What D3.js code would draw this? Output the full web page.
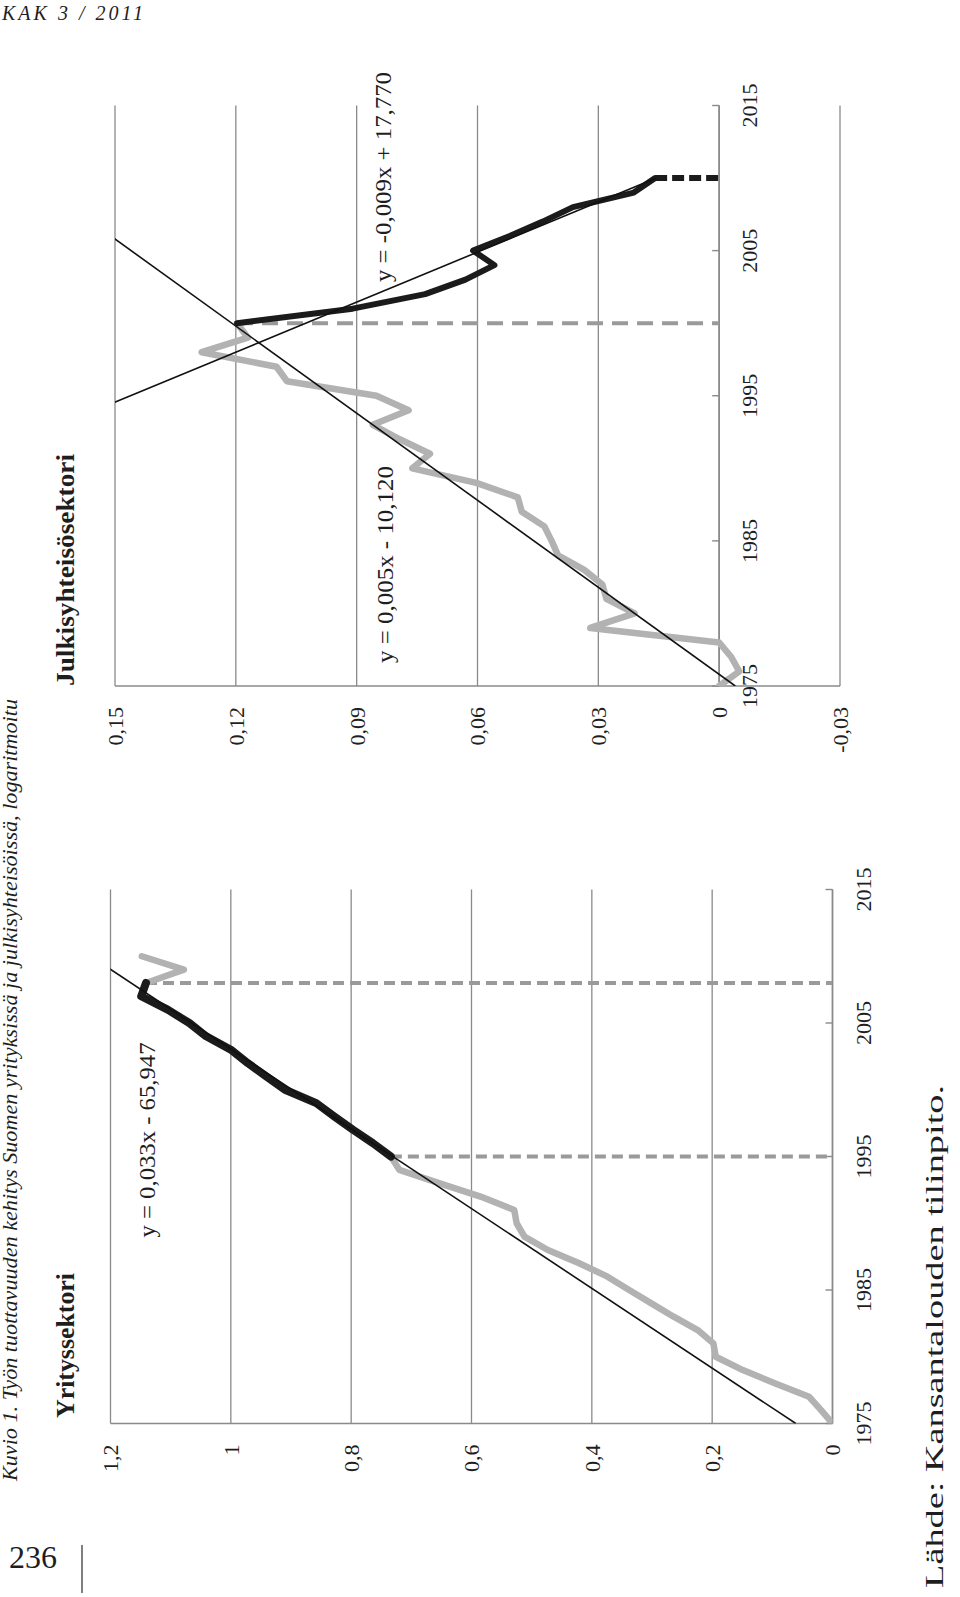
<!DOCTYPE html>
<html>
<head>
<meta charset="utf-8">
<script src="https://cdn.jsdelivr.net/npm/d3@7"></script>
<style>
  html, body { margin: 0; padding: 0; background: #ffffff; }
  svg { display: block; }
  text { font-family: "Liberation Serif", "DejaVu Serif", serif; fill: #1e1e1e; }
</style>
</head>
<body>
<script>
// ---------------- DATA ----------------
const yearTicks = [1975, 1985, 1995, 2005, 2015];
const yearTickLabels = ["1975", "1985", "1995", "2005", "2015"];

// Julkisyhteisösektori (public sector)
const pubValueTicks = [0.15, 0.12, 0.09, 0.06, 0.03, 0, -0.03];
const pubValueLabels = ["0,15", "0,12", "0,09", "0,06", "0,03", "0", "-0,03"];
const pubGrayYears = [1975, 1976, 1977, 1978, 1979, 1980, 1981, 1982, 1983, 1984, 1985, 1986, 1987,
                      1988, 1989, 1990, 1991, 1992, 1993, 1994, 1995, 1996, 1997, 1998, 1999, 2000];
const pubGrayValues = [0.000, -0.005, -0.003, 0.000, 0.032, 0.021, 0.028, 0.029, 0.0335, 0.040, 0.0416, 0.0434, 0.049,
                       0.050, 0.0603, 0.0762, 0.0718, 0.0793, 0.086, 0.0771, 0.0851, 0.1073, 0.1099, 0.1285, 0.117, 0.1197];
const pubBlackYears = [2000, 2001, 2002, 2003, 2004, 2005, 2006, 2007, 2008, 2009, 2010];
const pubBlackValues = [0.1197, 0.091, 0.073, 0.063, 0.0558, 0.0611, 0.052, 0.0438, 0.0363, 0.0212, 0.0159];
const pubTrend1Years = [1975, 2006.5];
const pubTrend1Values = [-0.004, 0.1535];
const pubTrend2Years = [1993.5, 2010];
const pubTrend2Values = [0.1592, 0.0156];
const pubGrayDropYear = 2000, pubGrayDropValue = 0.1197;
const pubBlackDropYear = 2010, pubBlackDropValue = 0.0159;

// Yrityssektori (business sector)
const busValueTicks = [1.2, 1.0, 0.8, 0.6, 0.4, 0.2, 0];
const busValueLabels = ["1,2", "1", "0,8", "0,6", "0,4", "0,2", "0"];
const busGrayYears = [1975, 1976, 1977, 1978, 1979, 1980, 1981, 1982, 1983, 1984, 1985, 1986, 1987,
                      1988, 1989, 1990, 1991, 1992, 1993, 1994, 1995];
const busGrayValues = [0.0, 0.019, 0.039, 0.095, 0.149, 0.194, 0.198, 0.224, 0.264, 0.301, 0.338, 0.374, 0.421,
                       0.473, 0.512, 0.525, 0.529, 0.585, 0.654, 0.720, 0.734];
const busBlackYears = [1995, 1996, 1997, 1998, 1999, 2000, 2001, 2002, 2003, 2004, 2005, 2006, 2007, 2008];
const busBlackValues = [0.734, 0.764, 0.797, 0.828, 0.858, 0.910, 0.941, 0.972, 1.000, 1.041, 1.069, 1.105, 1.149, 1.141];
const busGray2Years = [2008, 2009, 2010];
const busGray2Values = [1.141, 1.078, 1.148];
const busTrendYears = [1975, 2010];
const busTrendValues = [0.061, 1.233];
const busDrop1Year = 1995, busDrop1Value = 0.734;
const busDrop2Year = 2008, busDrop2Value = 1.141;

// Texts
const headerText = "KAK 3 / 2011";
const pageNumber = "236";
const figureTitle = "Kuvio 1. Työn tuottavuuden kehitys Suomen yrityksissä ja julkisyhteisöissä, logaritmoitu";
const pubTitle = "Julkisyhteisösektori";
const busTitle = "Yrityssektori";
const pubEq1 = "y = 0,005x - 10,120";
const pubEq2 = "y = -0,009x + 17,770";
const busEq = "y = 0,033x - 65,947";
const sourceText = "Lähde: Kansantalouden tilinpito.";

// ---------------- DRAWING ----------------
const svg = d3.select("body").append("svg")
  .attr("width", 960).attr("height", 1597)
  .attr("viewBox", "0 0 960 1597");
svg.append("rect").attr("width", 960).attr("height", 1597).attr("fill", "#fff");

const GRID = "#8a8a8a", GRAY = "#b2b2b2", BLACK = "#1b1b1b", DASH = "#9a9a9a";

function zip(a, b) { return a.map((v, i) => [v, b[i]]); }

function drawChart(cfg) {
  // page frame -> chart frame: rotate -90
  const g = svg.append("g")
    .attr("transform", `translate(${cfg.left},${cfg.bottom}) rotate(-90)`);
  const W = cfg.bottom - cfg.top, Hh = cfg.right - cfg.left;
  const x = d3.scaleLinear().domain([1975, 2015]).range([0, W]);
  const y = d3.scaleLinear().domain(cfg.vDomain).range([0, Hh]);

  const clipId = "clip-" + cfg.id;
  g.append("clipPath").attr("id", clipId)
    .append("rect").attr("x", 0).attr("y", 0).attr("width", W).attr("height", Hh);

  // horizontal gridlines (value ticks)
  g.selectAll(".grid").data(cfg.valueTicks).join("line")
    .attr("x1", x(1975)).attr("x2", x(2015))
    .attr("y1", d => y(d)).attr("y2", d => y(d))
    .attr("stroke", GRID).attr("stroke-width", 1.3);
  // value axis line at 1975
  g.append("line")
    .attr("x1", x(1975)).attr("x2", x(1975))
    .attr("y1", y(cfg.vDomain[0])).attr("y2", y(cfg.vDomain[1]))
    .attr("stroke", GRID).attr("stroke-width", 1.6);
  // year axis at value 0
  g.append("line")
    .attr("x1", x(1975)).attr("x2", x(2015))
    .attr("y1", y(0)).attr("y2", y(0))
    .attr("stroke", GRID).attr("stroke-width", 1.6);
  g.selectAll(".ytick").data(yearTicks).join("line")
    .attr("x1", d => x(d)).attr("x2", d => x(d))
    .attr("y1", y(0)).attr("y2", y(0) - 7)
    .attr("stroke", GRID).attr("stroke-width", 1.4);

  // value labels
  g.selectAll(".vlab").data(cfg.valueTicks).join("text")
    .attr("x", x(1975) - 21).attr("y", d => y(d)).attr("dy", "0.36em")
    .attr("text-anchor", "end").attr("font-size", 22)
    .text((d, i) => cfg.valueLabels[i]);
  // year labels
  g.selectAll(".xlab").data(yearTicks).join("text")
    .attr("x", d => x(d)).attr("y", y(0) + cfg.yearLabelOffset)
    .attr("text-anchor", "middle").attr("font-size", 22)
    .text((d, i) => yearTickLabels[i]);

  const line = d3.line().x(d => x(d[0])).y(d => y(d[1]));
  const plot = g.append("g").attr("clip-path", `url(#${clipId})`);

  // drop lines
  cfg.drops.forEach(dp => {
    plot.append("line")
      .attr("x1", x(dp.year)).attr("x2", x(dp.year))
      .attr("y1", y(dp.value)).attr("y2", y(0))
      .attr("stroke", dp.color).attr("stroke-width", dp.width)
      .attr("stroke-dasharray", dp.dash);
  });
  // gray series
  cfg.gray.forEach(s => {
    plot.append("path").attr("d", line(s))
      .attr("fill", "none").attr("stroke", GRAY).attr("stroke-width", 6.5)
      .attr("stroke-linejoin", "round").attr("stroke-linecap", "round");
  });
  // black series
  plot.append("path").attr("d", line(cfg.black))
    .attr("fill", "none").attr("stroke", BLACK).attr("stroke-width", cfg.blackWidth)
    .attr("stroke-linejoin", "round").attr("stroke-linecap", "round");
  // trend lines
  cfg.trends.forEach(t => {
    plot.append("path").attr("d", line(t))
      .attr("fill", "none").attr("stroke", "#111").attr("stroke-width", 1.6);
  });
  // equation labels
  cfg.eqs.forEach(e => {
    g.append("text").attr("x", e.x).attr("y", e.y)
      .attr("font-size", 24).attr("textLength", e.len).attr("lengthAdjust", "spacingAndGlyphs")
      .text(e.text);
  });
  // chart title
  g.append("text").attr("x", cfg.titleX).attr("y", cfg.titleY)
    .attr("font-size", 25).attr("font-weight", "bold")
    .attr("textLength", cfg.titleLen).attr("lengthAdjust", "spacingAndGlyphs")
    .text(cfg.title);
}

// Top chart: Julkisyhteisösektori
drawChart({
  id: "pub", left: 115, right: 840, top: 105.5, bottom: 686,
  vDomain: [0.15, -0.03], valueTicks: pubValueTicks, valueLabels: pubValueLabels,
  yearLabelOffset: 38,
  gray: [zip(pubGrayYears, pubGrayValues)],
  black: zip(pubBlackYears, pubBlackValues), blackWidth: 6,
  trends: [zip(pubTrend1Years, pubTrend1Values), zip(pubTrend2Years, pubTrend2Values)],
  drops: [
    { year: pubGrayDropYear, value: pubGrayDropValue, color: DASH, width: 4, dash: "16,9" },
    { year: pubBlackDropYear, value: pubBlackDropValue, color: BLACK, width: 6, dash: "12,5" }
  ],
  eqs: [
    { text: pubEq1, x: 23, y: 278, len: 197 },
    { text: pubEq2, x: 404, y: 276, len: 210 }
  ],
  title: pubTitle, titleX: 0, titleY: -41, titleLen: 232
});

// Bottom chart: Yrityssektori
drawChart({
  id: "bus", left: 110.5, right: 832.5, top: 889.5, bottom: 1423.5,
  vDomain: [1.2, 0], valueTicks: busValueTicks, valueLabels: busValueLabels,
  yearLabelOffset: 38,
  gray: [zip(busGrayYears, busGrayValues), zip(busGray2Years, busGray2Values)],
  black: zip(busBlackYears, busBlackValues), blackWidth: 8,
  trends: [zip(busTrendYears, busTrendValues)],
  drops: [
    { year: busDrop1Year, value: busDrop1Value, color: DASH, width: 4, dash: "11,6" },
    { year: busDrop2Year, value: busDrop2Value, color: DASH, width: 4, dash: "11,6" }
  ],
  eqs: [
    { text: busEq, x: 186, y: 44.5, len: 195 }
  ],
  title: busTitle, titleX: 5.5, titleY: -36.5, titleLen: 145
});

// Figure title (rotated)
svg.append("text")
  .attr("transform", "translate(17,1481) rotate(-90)")
  .attr("font-size", 20).attr("font-style", "italic")
  .attr("textLength", 782).attr("lengthAdjust", "spacingAndGlyphs")
  .text(figureTitle);

// Source (rotated)
svg.append("text")
  .attr("transform", "translate(943,1588) rotate(-90)")
  .attr("font-size", 26)
  .attr("textLength", 503).attr("lengthAdjust", "spacingAndGlyphs")
  .text(sourceText);

// Page header & page number (not rotated)
svg.append("text").attr("x", 2).attr("y", 20)
  .attr("font-size", 20).attr("font-style", "italic").attr("letter-spacing", 3)
  .text(headerText);
svg.append("text").attr("x", 9).attr("y", 1568)
  .attr("font-size", 32).attr("fill", "#333")
  .text(pageNumber);
svg.append("line").attr("x1", 82).attr("x2", 82).attr("y1", 1545).attr("y2", 1593)
  .attr("stroke", "#555").attr("stroke-width", 1.5);
</script>
</body>
</html>
